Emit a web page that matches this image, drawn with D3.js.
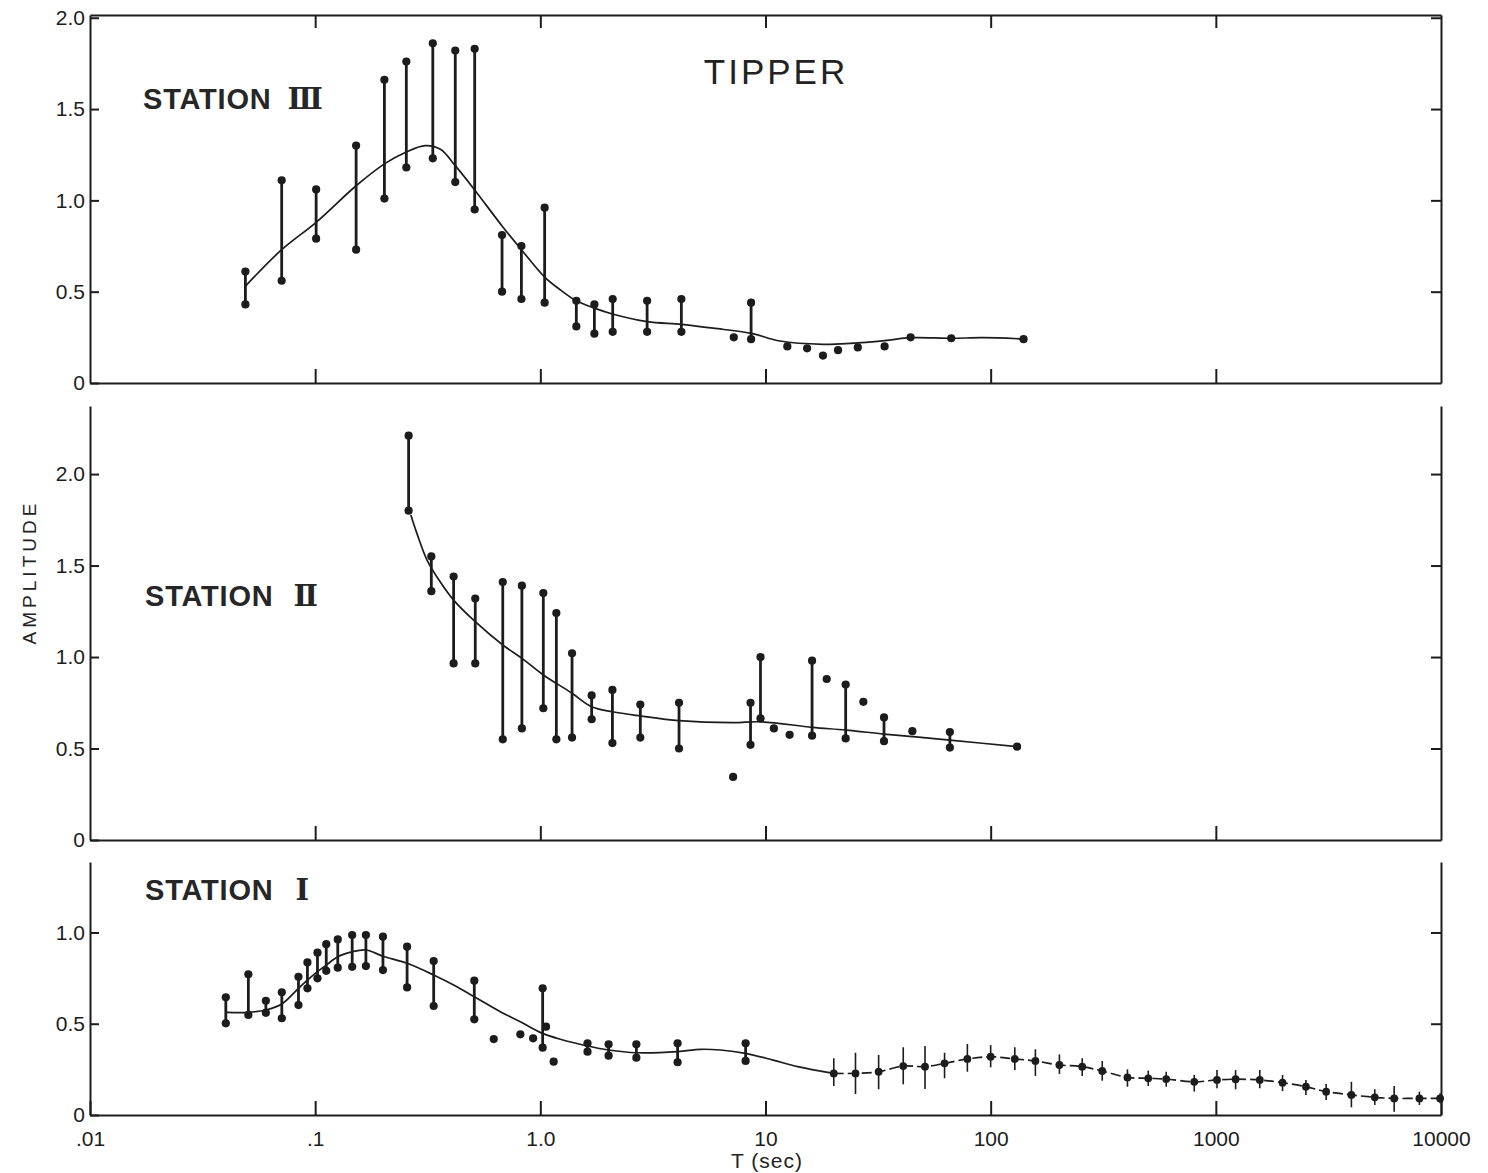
<!DOCTYPE html>
<html>
<head>
<meta charset="utf-8">
<script src="https://cdn.jsdelivr.net/npm/d3@7"></script>
<style>
body{margin:0;background:#fff;}
svg{display:block;font-family:"Liberation Sans",Arial,sans-serif;}
.axis path,.axis line{stroke:#1c1c1c;stroke-width:2;}
.axis text{font-size:21px;fill:#1c1c1c;font-family:"Liberation Sans",Arial,sans-serif;}
</style>
</head>
<body>
<script>
// period axis (sec)
var xTickValues=[0.01,0.1,1,10,100,1000,10000];
var xTickLabels=[".01",".1","1.0","10","100","1000","10000"];

// STATION III
var s3Period=[0.049,0.071,0.101,0.152,0.203,0.254,0.333,0.419,0.511,0.676,0.824,1.045,1.445,1.738,2.096,2.98,4.23,8.63];
var s3Upper=[0.61,1.11,1.06,1.30,1.66,1.76,1.86,1.82,1.83,0.81,0.75,0.96,0.45,0.43,0.46,0.45,0.46,0.44];
var s3Lower=[0.43,0.56,0.79,0.73,1.01,1.18,1.23,1.10,0.95,0.50,0.46,0.44,0.31,0.27,0.28,0.28,0.28,0.24];
var s3DotPeriod=[7.23,12.5,15.3,18.0,21.0,25.7,33.8,44.1,66.8,140];
var s3Dot=[0.25,0.20,0.19,0.15,0.18,0.195,0.20,0.25,0.245,0.24];
var s3FitPeriod=[0.049,0.071,0.101,0.152,0.203,0.254,0.308,0.36,0.419,0.511,0.676,0.824,1.045,1.227,1.445,1.738,2.09,2.98,4.23,5.86,8.63,11.6,18.0,23.8,33.8,44.1,66.8,92.4,140];
var s3Fit=[0.53,0.73,0.88,1.08,1.20,1.265,1.30,1.28,1.19,1.057,0.86,0.73,0.58,0.51,0.45,0.41,0.378,0.336,0.321,0.30,0.272,0.23,0.212,0.217,0.232,0.248,0.245,0.248,0.241];

// STATION II
var s2Period=[0.260,0.328,0.412,0.514,0.681,0.828,1.031,1.178,1.383,1.69,2.09,2.78,4.13,8.58,9.5,16.1,22.7,33.6,65.9];
var s2Upper=[2.21,1.55,1.44,1.32,1.41,1.39,1.35,1.24,1.02,0.79,0.82,0.74,0.75,0.75,1.00,0.98,0.85,0.67,0.59];
var s2Lower=[1.80,1.36,0.965,0.965,0.55,0.61,0.72,0.55,0.56,0.66,0.53,0.56,0.50,0.52,0.665,0.57,0.555,0.54,0.505];
var s2DotPeriod=[7.18,10.9,12.8,18.7,27.2,44.9,131];
var s2Dot=[0.345,0.61,0.575,0.88,0.755,0.595,0.51];
var s2FitPeriod=[0.266,0.283,0.314,0.359,0.412,0.514,0.681,0.829,1.031,1.178,1.383,1.69,2.09,2.78,4.13,7.18,9.5,16.1,22.7,33.6,44.9,65.9,131];
var s2Fit=[1.776,1.676,1.53,1.411,1.311,1.193,1.066,0.993,0.902,0.856,0.802,0.728,0.701,0.678,0.652,0.641,0.646,0.616,0.601,0.579,0.565,0.546,0.51];

// STATION I
var s1Period=[0.0401,0.0505,0.0604,0.0711,0.0843,0.0924,0.1024,0.112,0.126,0.146,0.168,0.2,0.256,0.336,0.509,1.024,1.62,2.01,2.67,4.07,8.16];
var s1Upper=[0.645,0.771,0.626,0.672,0.757,0.836,0.889,0.936,0.962,0.986,0.986,0.977,0.922,0.843,0.736,0.694,0.393,0.387,0.387,0.393,0.393];
var s1Lower=[0.502,0.548,0.560,0.530,0.602,0.694,0.749,0.790,0.807,0.812,0.816,0.794,0.699,0.597,0.524,0.369,0.347,0.325,0.314,0.289,0.296];
var s1DotPeriod=[0.621,0.815,0.929,1.06,1.146];
var s1Dot=[0.416,0.442,0.42,0.484,0.292];
var s1FitPeriod=[0.0405,0.0505,0.0604,0.0711,0.0843,0.0924,0.1024,0.112,0.126,0.146,0.168,0.2,0.256,0.336,0.412,0.509,0.664,0.815,1.024,1.227,1.62,2.01,2.67,4.07,5.14,6.31,8.15,10.8,13.9,20.1];
var s1Fit=[0.562,0.562,0.575,0.608,0.694,0.739,0.785,0.821,0.867,0.894,0.904,0.87,0.831,0.767,0.712,0.648,0.566,0.511,0.447,0.415,0.378,0.356,0.341,0.347,0.36,0.356,0.338,0.301,0.265,0.228];
var s1LongPeriod=[20.1,25.1,31.8,40.9,51.1,62.4,78.8,100,128,158,202,255,313,405,501,602,802,1012,1224,1568,1978,2512,3090,4000,5080,6195,8020,9910];
var s1LongMid=[0.228,0.228,0.237,0.268,0.265,0.283,0.307,0.319,0.307,0.296,0.274,0.265,0.241,0.206,0.201,0.197,0.182,0.192,0.196,0.192,0.177,0.155,0.128,0.11,0.097,0.091,0.091,0.091];
var s1LongUpper=[0.311,0.341,0.329,0.371,0.378,0.341,0.389,0.383,0.371,0.36,0.332,0.311,0.296,0.25,0.243,0.237,0.219,0.246,0.246,0.246,0.219,0.192,0.17,0.182,0.141,0.159,0.128,0.119];
var s1LongLower=[0.159,0.115,0.141,0.168,0.142,0.201,0.237,0.261,0.246,0.214,0.225,0.214,0.188,0.155,0.159,0.155,0.128,0.146,0.141,0.146,0.131,0.11,0.082,0.042,0.055,0.018,0.055,0.064];

var ink="#1c1c1c";
var width=1488,height=1173;
var svg=d3.select("body").append("svg").attr("width",width).attr("height",height);

var x=d3.scaleLog().domain([0.01,10000]).range([90,1441]);

var panels=[
  {top:15,base:383,ymax:2.015,yticks:[0,0.5,1,1.5,2],frameTop:true,xlabels:false,
   num:"\u2162",lx:143,ly:109,numDx:16,
   bars:[s3Period,s3Upper,s3Lower],dots:[s3DotPeriod,s3Dot],fit:[s3FitPeriod,s3Fit]},
  {top:406,base:840,ymax:2.372,yticks:[0,0.5,1,1.5,2],frameTop:false,xlabels:false,
   num:"\u2161",lx:145,ly:606,numDx:20,
   bars:[s2Period,s2Upper,s2Lower],dots:[s2DotPeriod,s2Dot],fit:[s2FitPeriod,s2Fit]},
  {top:862,base:1115,ymax:1.386,yticks:[0,0.5,1],frameTop:false,xlabels:true,
   num:"\u2160",lx:145,ly:900,numDx:22,
   bars:[s1Period,s1Upper,s1Lower],dots:[s1DotPeriod,s1Dot],fit:[s1FitPeriod,s1Fit]}
];

panels.forEach(function(p,i){
  var y=d3.scaleLinear().domain([0,p.ymax]).range([p.base,p.top]);
  p.y=y;
  var g=svg.append("g").attr("class","panel");

  g.append("g").attr("class","axis")
    .attr("transform","translate(90,0)")
    .call(d3.axisLeft(y).tickValues(p.yticks).tickSizeInner(-9).tickSizeOuter(0).tickPadding(5)
      .tickFormat(function(d){return d===0?"0":d.toFixed(1);}));

  g.append("g").attr("class","axis")
    .attr("transform","translate(1441,0)")
    .call(d3.axisRight(y).tickValues(p.yticks.filter(function(d){return d>0;})).tickSizeInner(-10).tickSizeOuter(0).tickFormat(""));

  var xb=d3.axisBottom(x).tickSizeInner(-14).tickSizeOuter(0).tickPadding(16);
  if(p.xlabels){
    xb.tickValues(xTickValues).tickFormat(function(d,k){return xTickLabels[k];});
  } else {
    xb.tickValues(xTickValues.slice(1,-1)).tickFormat("");
  }
  g.append("g").attr("class","axis")
    .attr("transform","translate(0,"+p.base+")")
    .call(xb);

  if(p.frameTop){
    g.append("g").attr("class","axis")
      .attr("transform","translate(0,"+p.top+")")
      .call(d3.axisTop(x).tickValues(xTickValues.slice(1,-1)).tickSizeInner(-13).tickSizeOuter(0).tickFormat(""));
  }

  // fitted curve
  var line=d3.line()
    .x(function(d){return x(d[0]);})
    .y(function(d){return y(d[1]);})
    .curve(d3.curveCatmullRom.alpha(0.5));
  g.append("path")
    .datum(d3.zip(p.fit[0],p.fit[1]))
    .attr("d",line)
    .attr("fill","none")
    .attr("stroke",ink)
    .attr("stroke-width",1.7);

  // error bars with end dots
  var bars=d3.zip(p.bars[0],p.bars[1],p.bars[2]);
  g.selectAll(".bar").data(bars).enter().append("line")
    .attr("class","bar")
    .attr("x1",function(d){return x(d[0]);})
    .attr("x2",function(d){return x(d[0]);})
    .attr("y1",function(d){return y(d[1]);})
    .attr("y2",function(d){return y(d[2]);})
    .attr("stroke",ink)
    .attr("stroke-width",2.8);
  g.selectAll(".endU").data(bars).enter().append("circle")
    .attr("cx",function(d){return x(d[0]);})
    .attr("cy",function(d){return y(d[1]);})
    .attr("r",4.1).attr("fill",ink);
  g.selectAll(".endL").data(bars).enter().append("circle")
    .attr("cx",function(d){return x(d[0]);})
    .attr("cy",function(d){return y(d[2]);})
    .attr("r",4.1).attr("fill",ink);

  g.selectAll(".single").data(d3.zip(p.dots[0],p.dots[1])).enter().append("circle")
    .attr("cx",function(d){return x(d[0]);})
    .attr("cy",function(d){return y(d[1]);})
    .attr("r",4.1).attr("fill",ink);

  var lab=g.append("text")
    .attr("x",p.lx).attr("y",p.ly)
    .attr("font-size",29).attr("font-weight","bold")
    .attr("letter-spacing",0.8)
    .attr("fill","#262626")
    .text("STATION");
  lab.append("tspan")
    .attr("dx",p.numDx)
    .attr("font-family","'DejaVu Serif',serif")
    .attr("font-weight","bold")
    .text(p.num);
});

// long period soundings of station I
var pI=panels[2];
var longData=d3.zip(s1LongPeriod,s1LongMid,s1LongUpper,s1LongLower);
svg.append("path")
  .datum(longData)
  .attr("d",d3.line()
    .x(function(d){return x(d[0]);})
    .y(function(d){return pI.y(d[1]);})
    .curve(d3.curveCatmullRom.alpha(0.5)))
  .attr("fill","none")
  .attr("stroke",ink)
  .attr("stroke-width",1.7)
  .attr("stroke-dasharray","10,4");
svg.selectAll(".lbar").data(longData).enter().append("line")
  .attr("x1",function(d){return x(d[0]);})
  .attr("x2",function(d){return x(d[0]);})
  .attr("y1",function(d){return pI.y(d[2]);})
  .attr("y2",function(d){return pI.y(d[3]);})
  .attr("stroke",ink)
  .attr("stroke-width",1.6);
svg.selectAll(".ldot").data(longData).enter().append("circle")
  .attr("cx",function(d){return x(d[0]);})
  .attr("cy",function(d){return pI.y(d[1]);})
  .attr("r",3.9).attr("fill",ink);

// titles
svg.append("text")
  .attr("x",776).attr("y",84)
  .attr("text-anchor","middle")
  .attr("font-size",35).attr("letter-spacing",3)
  .attr("fill","#222")
  .text("TIPPER");

svg.append("text")
  .attr("transform","translate(36,572) rotate(-90)")
  .attr("text-anchor","middle")
  .attr("font-size",19).attr("letter-spacing",4)
  .attr("fill","#222")
  .text("AMPLITUDE");

svg.append("text")
  .attr("x",767).attr("y",1168)
  .attr("text-anchor","middle")
  .attr("font-size",21).attr("letter-spacing",1)
  .attr("fill","#222")
  .text("T (sec)");
</script>
</body>
</html>
